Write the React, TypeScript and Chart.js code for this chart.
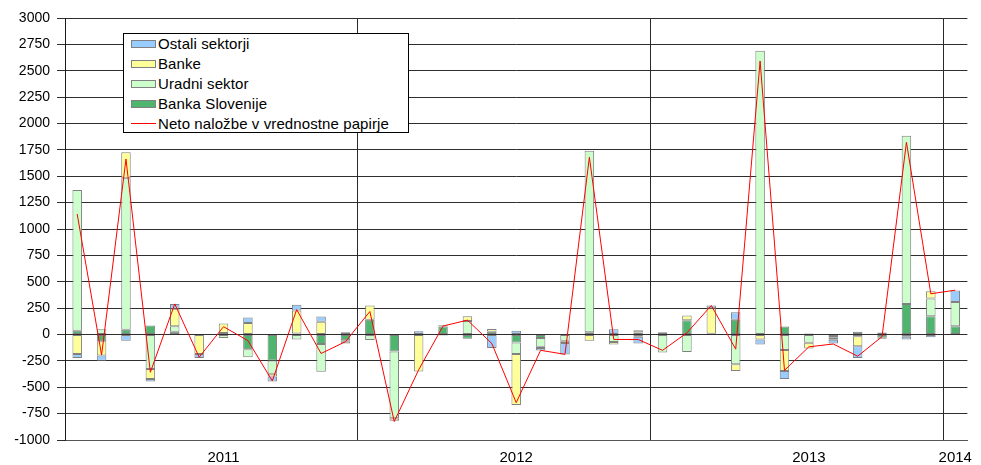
import React, { useEffect, useRef } from 'react';
import { Chart, registerables } from 'chart.js';

Chart.register(...registerables);

const months = [
  '2011-01', '2011-02', '2011-03', '2011-04', '2011-05', '2011-06', '2011-07', '2011-08', '2011-09', '2011-10', '2011-11', '2011-12',
  '2012-01', '2012-02', '2012-03', '2012-04', '2012-05', '2012-06', '2012-07', '2012-08', '2012-09', '2012-10', '2012-11', '2012-12',
  '2013-01', '2013-02', '2013-03', '2013-04', '2013-05', '2013-06', '2013-07', '2013-08', '2013-09', '2013-10', '2013-11', '2013-12',
  '2014-01',
];

const yearLabels = ['2011', '2012', '2013', '2014'];
const yearLabelIndex = [6, 18, 30, 36];
const yearBoundaryIndex = [12, 24, 36];

const seriesNames = ['Ostali sektorji', 'Banke', 'Uradni sektor', 'Banka Slovenije', 'Neto naložbe v vrednostne papirje'];

const bankaSlovenije = [
  35, -65, 44, 85, 25, -5, 15, -139, -247, 10, -89, -55,
  139, -161, 0, 76, -41, 25, -76, -32, -5, 22, 0, 19,
  22, 136, 8, 139, 0, 76, 10, -15, 25, -30, 288, 174,
  79,
];

const uradniSektor = [
  1335, 50, 1436, -326, 54, 0, -32, -76, -126, -47, -265, -10,
  -51, -633, 0, 0, 127, 0, -108, -85, -55, 1720, -70, -22,
  -171, -165, 0, -282, 2690, -146, -79, -15, -16, 0, 1596, 168,
  228,
];

const banke = [
  -184, -133, 247, -95, 165, -180, 90, 108, -26, 218, 121, -20,
  136, -23, -350, 12, 47, 28, -484, -10, -20, -60, -25, 22,
  0, 44, 242, -63, -47, -199, -54, -20, -95, 20, -22, 69,
  0,
];

const ostaliSektorji = [
  -38, -50, -60, -25, 44, -37, 0, 53, -47, 54, 50, 22,
  0, 0, 30, -10, 0, -127, 35, -25, -110, 0, 50, -63,
  0, 0, 26, 73, -48, -76, 0, -35, -111, -10, -25, -25,
  111,
];

const netoNalozbe = [
  1142, -195, 1663, -358, 290, -215, 74, -58, -440, 236, -180, -68,
  218, -825, -335, 80, 136, -85, -646, -150, -188, 1680, -47, -47,
  -150, 16, 275, -139, 2592, -340, -117, -90, -206, -20, 1822, 386,
  420,
];

const colors = {
  ostali: '#99CCFF',
  banke: '#FFFF99',
  uradni: '#CCFFCC',
  bs: '#4FB46D',
  neto: '#FF0000',
};

const FONT = '"Liberation Sans", Arial, sans-serif';

export default function App() {
  const canvasRef = useRef<HTMLCanvasElement | null>(null);

  useEffect(() => {
    const canvas = canvasRef.current;
    if (!canvas) return;
    const barCommon = {
      type: 'bar' as const,
      stack: 'sectors',
      borderColor: '#808080',
      borderWidth: 1,
      borderSkipped: false as const,
      barPercentage: 0.39,
      categoryPercentage: 1,
    };
    const chart = new Chart(canvas, {
      type: 'bar',
      data: {
        labels: months,
        datasets: [
          { ...barCommon, label: seriesNames[3], data: bankaSlovenije, backgroundColor: colors.bs },
          { ...barCommon, label: seriesNames[2], data: uradniSektor, backgroundColor: colors.uradni },
          { ...barCommon, label: seriesNames[1], data: banke, backgroundColor: colors.banke },
          { ...barCommon, label: seriesNames[0], data: ostaliSektorji, backgroundColor: colors.ostali },
          {
            type: 'line' as const,
            label: seriesNames[4],
            data: netoNalozbe,
            stack: 'net',
            order: -1,
            borderColor: colors.neto,
            borderWidth: 1,
            pointRadius: 0,
            tension: 0,
            fill: false,
          } as any,
        ],
      },
      options: {
        animation: false,
        responsive: true,
        maintainAspectRatio: false,
        layout: { padding: { top: 18, right: 7, left: 0, bottom: 0 } },
        plugins: {
          legend: { display: false },
          tooltip: { enabled: false },
        },
        scales: {
          x: {
            stacked: true,
            offset: true,
            grid: {
              offset: true,
              drawTicks: false,
              lineWidth: 1,
              color: (ctx: any) => {
                if (yearBoundaryIndex.includes(ctx.index)) return '#2a2a2a';
                if (ctx.index === months.length) return '#b0b0b0';
                return 'rgba(0,0,0,0)';
              },
            },
            border: { display: true, color: '#555555', width: 1 },
            ticks: {
              autoSkip: false,
              maxRotation: 0,
              minRotation: 0,
              padding: 9,
              color: '#000000',
              font: { family: FONT, size: 15 },
              callback: (_v: any, idx: number) => {
                const k = yearLabelIndex.indexOf(idx);
                return k >= 0 ? yearLabels[k] : '';
              },
            },
            afterFit: (scale: any) => {
              scale.height = 25;
            },
          },
          y: {
            stacked: true,
            min: -1000,
            max: 3000,
            grid: {
              color: '#2e2e2e',
              lineWidth: 1,
              drawTicks: true,
              tickLength: 8,
            },
            border: { display: true, color: '#1a1a1a', width: 1 },
            ticks: {
              stepSize: 250,
              padding: 7,
              color: '#000000',
              font: { family: FONT, size: 14 },
              callback: (v: any) => String(v),
            },
            afterFit: (scale: any) => {
              scale.width = 65;
            },
          },
        },
      },
    });
    return () => chart.destroy();
  }, []);

  const legendRows = [
    { name: seriesNames[0], color: colors.ostali, line: false },
    { name: seriesNames[1], color: colors.banke, line: false },
    { name: seriesNames[2], color: colors.uradni, line: false },
    { name: seriesNames[3], color: colors.bs, line: false },
    { name: seriesNames[4], color: colors.neto, line: true },
  ];

  return (
    <div style={{ position: 'fixed', left: 0, top: 0, width: 981, height: 465, background: '#ffffff' }}>
      <canvas ref={canvasRef} />
      <div
        style={{
          position: 'absolute',
          left: 123,
          top: 33,
          width: 286,
          height: 100,
          border: '1px solid #000',
          background: '#fff',
          fontFamily: FONT,
          fontSize: 15,
          color: '#000',
          boxSizing: 'border-box',
        }}
      >
        {legendRows.map((r, i) => (
          <div key={r.name} style={{ position: 'absolute', left: 0, top: i * 20, height: 20, width: '100%' }}>
            {r.line ? (
              <div style={{ position: 'absolute', left: 7, top: 9, width: 25, height: 1, background: '#ff0000' }} />
            ) : (
              <div
                style={{
                  position: 'absolute',
                  left: 7,
                  top: 6,
                  width: 25,
                  height: 8,
                  background: r.color,
                  border: '1px solid #808080',
                  boxSizing: 'border-box',
                }}
              />
            )}
            <div style={{ position: 'absolute', left: 34, top: 1, lineHeight: '18px', whiteSpace: 'nowrap', letterSpacing: '0.1px' }}>{r.name}</div>
          </div>
        ))}
      </div>
    </div>
  );
}
